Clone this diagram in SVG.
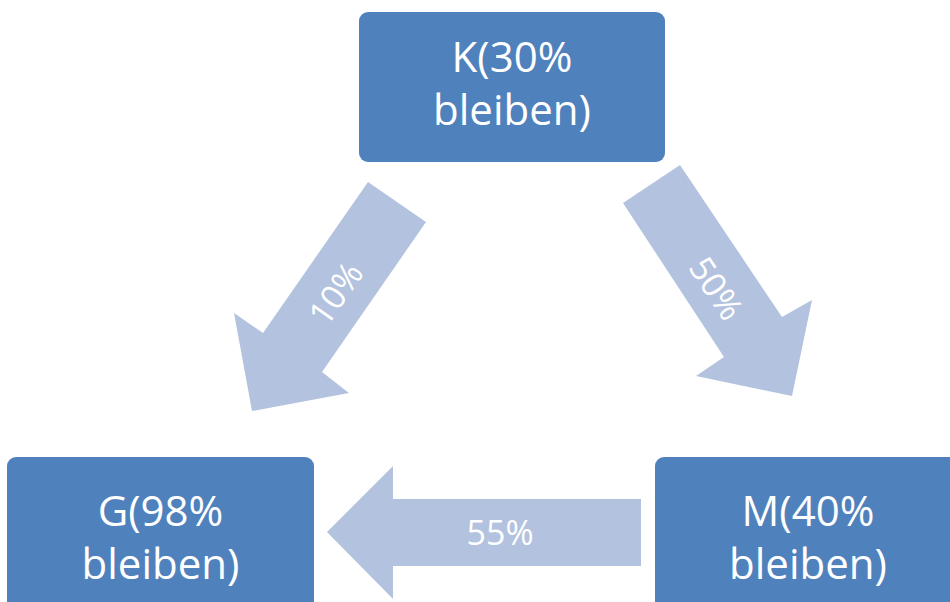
<svg xmlns="http://www.w3.org/2000/svg" width="950" height="602" viewBox="0 0 950 602">
<style>
.box{fill:#4F81BD}
.arr{fill:#B3C2DE}
.t{font-family:"Open Sans","Liberation Sans",sans-serif;fill:#FFFFFF;text-anchor:middle}
.big{font-size:42px}
.lbl{font-size:34px}
</style>
<rect width="950" height="602" fill="#FFFFFF"/>
<g id="connectors">
<g id="arrow-k-g">
<polygon class="arr" points="368,182 426,222 322,372 349,393 252,411 234,313 263,333"/>
<text class="t lbl" transform="translate(335,293) rotate(-55)" dominant-baseline="central">10%</text>
</g>
<g id="arrow-k-m">
<polygon class="arr" points="680,165 782,317 812,300 792,396 696,376 724,357 623,203"/>
<text class="t lbl" transform="translate(717,288) rotate(56)" dominant-baseline="central">50%</text>
</g>
<g id="arrow-m-g">
<polygon class="arr" points="327,532 393,466 393,499 641,499 641,566 393,566 393,599"/>
<text class="t lbl" x="500" y="532" dominant-baseline="central">55%</text>
</g>
</g>
<g id="node-k">
<rect class="box" x="359" y="12" width="306" height="150" rx="9"/>
<text class="t big" x="512" y="72">K(30%</text>
<text class="t big" x="512" y="125">bleiben)</text>
</g>
<g id="node-g">
<rect class="box" x="7" y="457" width="307" height="170" rx="9"/>
<text class="t big" x="160.5" y="526">G(98%</text>
<text class="t big" x="160.5" y="579">bleiben)</text>
</g>
<g id="node-m">
<rect class="box" x="655" y="457" width="307" height="170" rx="9"/>
<text class="t big" x="808" y="526">M(40%</text>
<text class="t big" x="808" y="579">bleiben)</text>
</g>
</svg>
